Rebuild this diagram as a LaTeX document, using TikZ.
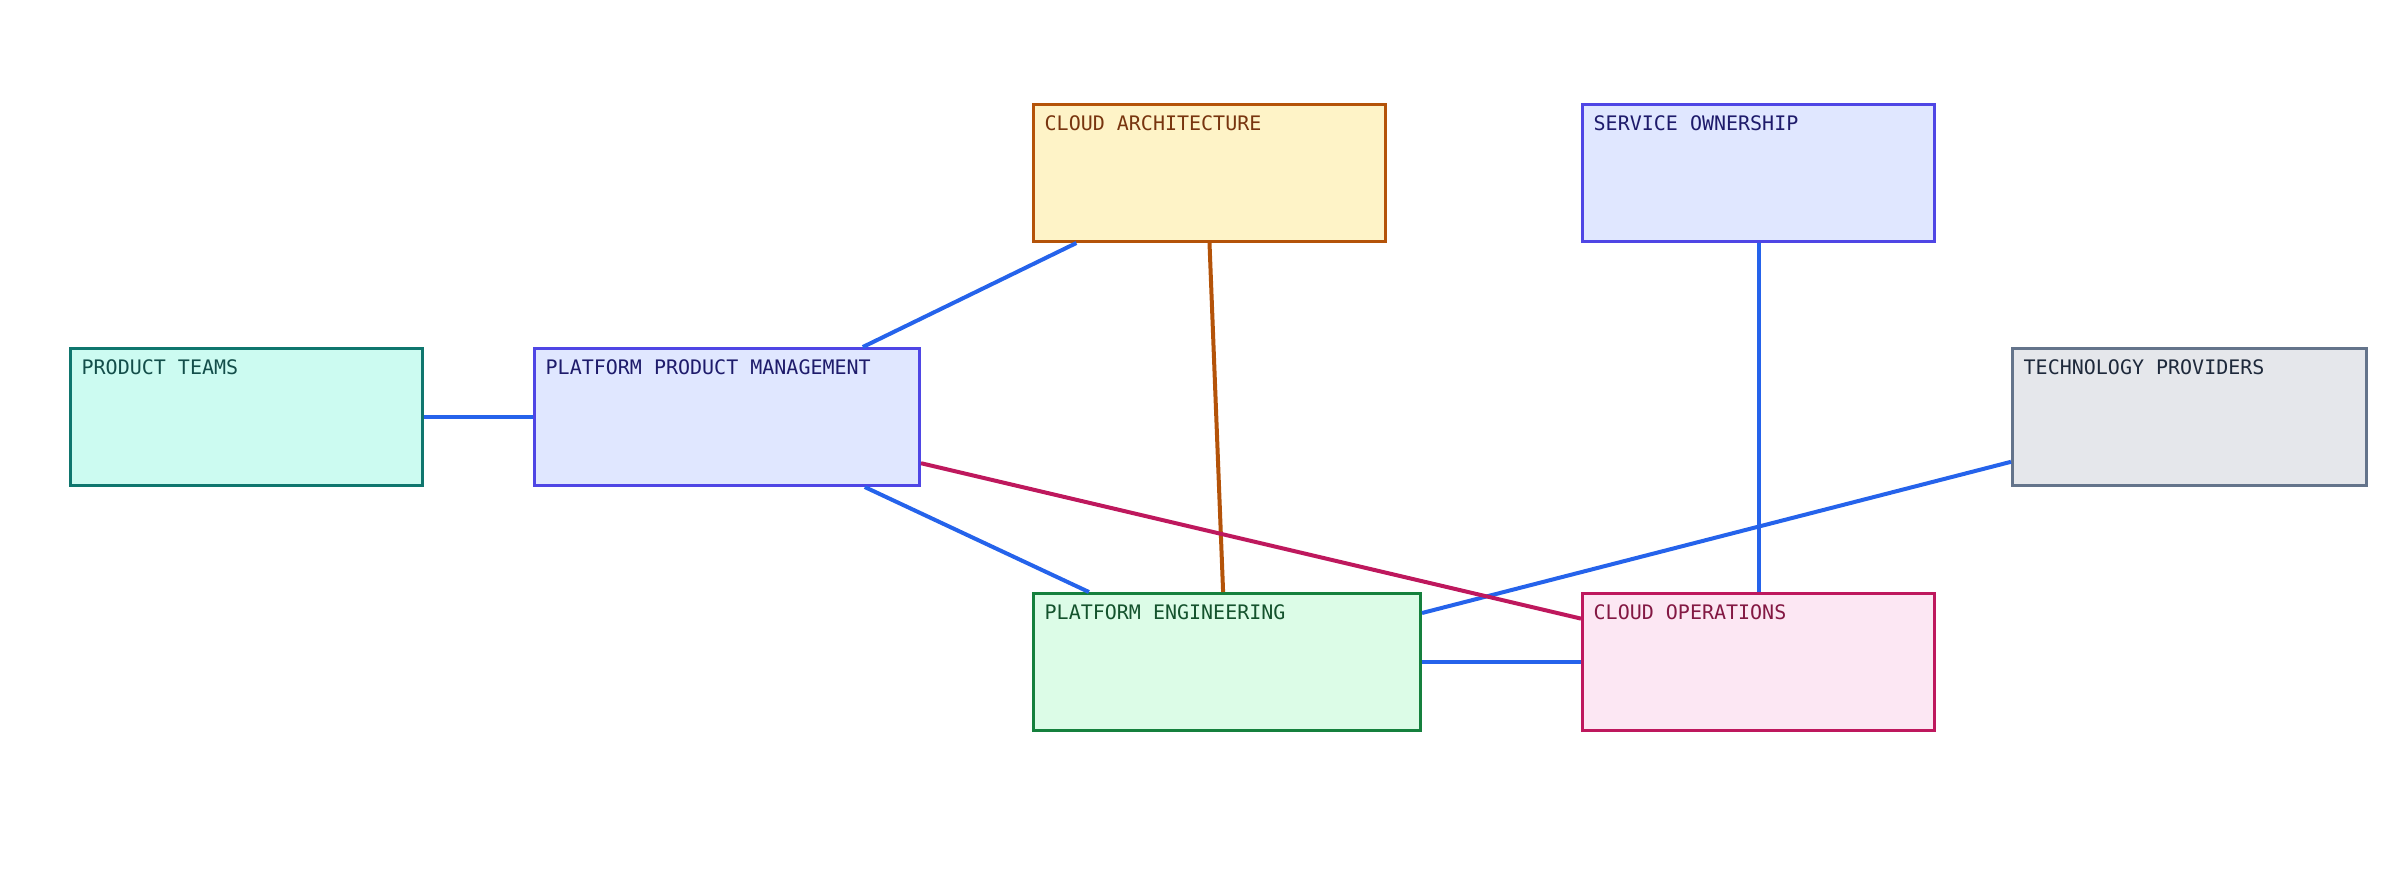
\documentclass[tikz,border=0pt]{standalone}
\usepackage{fontspec}
\newfontfamily\monof{DejaVu Sans Mono}
\usetikzlibrary{calc}
\definecolor{eblue}{HTML}{2563EB}
\definecolor{ecrim}{HTML}{BE185D}
\definecolor{ebrown}{HTML}{B45309}
\begin{document}
\begin{tikzpicture}[x=0.3pt,y=-0.3pt,
 box/.style={draw,line width=0.9pt,minimum width=#1*0.3pt,minimum height=137*0.3pt,inner sep=0,anchor=north west},
 lab/.style={anchor=north west,inner sep=0,font=\monof\fontsize{6}{7}\selectfont},
 edge/.style={line width=1.2pt,eblue}]
\useasboundingbox (0,0) rectangle (2400,879);
\tikzset{mk/.code args={#1/#2/#3/#4/#5/#6/#7/#8}{}}
\newcommand\mybox[8]{%
 \node[box=#4,draw=#5,fill=#6] (#1) at (#2,#3) {};
 \node[lab,text=#7] at ($(#1.north west)+(12,12)$) {#8};}
\definecolor{f1}{HTML}{CCFBF1}\definecolor{s1}{HTML}{0F766E}\definecolor{t1}{HTML}{134E4A}
\definecolor{f2}{HTML}{E0E7FF}\definecolor{s2}{HTML}{4F46E5}\definecolor{t2}{HTML}{1E1B6B}
\definecolor{f3}{HTML}{FEF3C7}\definecolor{s3}{HTML}{B45309}\definecolor{t3}{HTML}{78350F}
\definecolor{f4}{HTML}{E5E7EB}\definecolor{s4}{HTML}{64748B}\definecolor{t4}{HTML}{1E293B}
\definecolor{f5}{HTML}{DCFCE7}\definecolor{s5}{HTML}{15803D}\definecolor{t5}{HTML}{14532D}
\definecolor{f6}{HTML}{FCE7F3}\definecolor{s6}{HTML}{BE185D}\definecolor{t6}{HTML}{831843}
\mybox{pt}{69}{347}{352}{s1}{f1}{t1}{PRODUCT TEAMS}
\mybox{ppm}{533}{347}{385}{s2}{f2}{t2}{PLATFORM PRODUCT MANAGEMENT}
\mybox{ca}{1032}{103}{352}{s3}{f3}{t3}{CLOUD ARCHITECTURE}
\mybox{so}{1581}{103}{352}{s2}{f2}{t2}{SERVICE OWNERSHIP}
\mybox{tp}{2011}{347}{354}{s4}{f4}{t4}{TECHNOLOGY PROVIDERS}
\mybox{pe}{1032}{592}{387}{s5}{f5}{t5}{PLATFORM ENGINEERING}
\mybox{co}{1581}{592}{352}{s6}{f6}{t6}{CLOUD OPERATIONS}
\begin{scope}[on background layer/.style={}]
\draw[edge] (pt.east) -- (ppm.west);
\draw[edge] ($(ppm.north west)!0.85!(ppm.north east)$) -- ($(ca.south west)!0.125!(ca.south east)$);
\draw[edge] ($(ppm.south west)!0.855!(ppm.south east)$) -- ($(pe.north west)!0.146!(pe.north east)$);
\draw[line width=1.2pt,ebrown] (ca.south) -- ($(pe.north west)!0.49!(pe.north east)$);
\draw[edge] (so.south) -- (co.north);
\draw[edge] ($(tp.north west)!0.82!(tp.south west)$) -- ($(pe.north east)!0.15!(pe.south east)$);
\draw[line width=1.2pt,ecrim] ($(ppm.north east)!0.83!(ppm.south east)$) -- ($(co.north west)!0.19!(co.south west)$);
\draw[edge] (pe.east) -- (co.west);
\end{scope}
\end{tikzpicture}
\end{document}
